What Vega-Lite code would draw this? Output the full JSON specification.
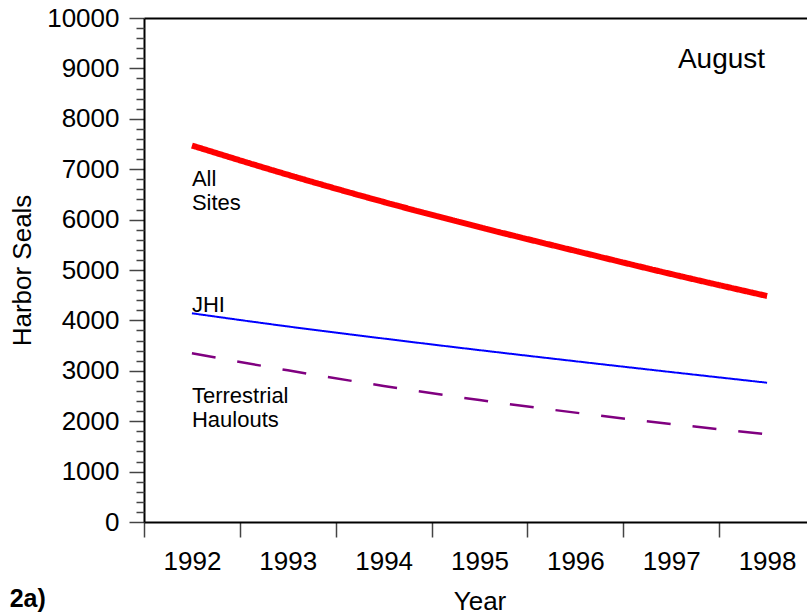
{
  "$schema": "https://vega.github.io/schema/vega-lite/v6.json",
  "autosize": "none",
  "width": 663,
  "height": 504,
  "padding": {"left": 144, "top": 18, "right": 0, "bottom": 93},
  "config": {
    "font": "Liberation Sans",
    "view": {"stroke": null},
    "axis": {"labelFont": "Liberation Sans", "titleFont": "Liberation Sans", "labelColor": "black", "titleColor": "black", "titleFontWeight": "normal"}
  },
  "title": {"text": "2a)", "orient": "bottom", "anchor": "start", "frame": "bounds", "fontSize": 25, "fontWeight": "bold", "font": "Liberation Sans", "offset": -27, "dx": 0, "color": "black"},
  "resolve": {"axis": {"x": "independent", "y": "independent"}},
  "layer": [
    {
      "data": {"values": [
        {"year": 1992, "series": "All Sites", "seals": 7470},
        {"year": 1993, "series": "All Sites", "seals": 6890},
        {"year": 1994, "series": "All Sites", "seals": 6350},
        {"year": 1995, "series": "All Sites", "seals": 5850},
        {"year": 1996, "series": "All Sites", "seals": 5380},
        {"year": 1997, "series": "All Sites", "seals": 4920},
        {"year": 1998, "series": "All Sites", "seals": 4484},
        {"year": 1992, "series": "JHI", "seals": 4141},
        {"year": 1993, "series": "JHI", "seals": 3880},
        {"year": 1994, "series": "JHI", "seals": 3640},
        {"year": 1995, "series": "JHI", "seals": 3410},
        {"year": 1996, "series": "JHI", "seals": 3190},
        {"year": 1997, "series": "JHI", "seals": 2975},
        {"year": 1998, "series": "JHI", "seals": 2764},
        {"year": 1992, "series": "Terrestrial Haulouts", "seals": 3347},
        {"year": 1993, "series": "Terrestrial Haulouts", "seals": 3010},
        {"year": 1994, "series": "Terrestrial Haulouts", "seals": 2700},
        {"year": 1995, "series": "Terrestrial Haulouts", "seals": 2420},
        {"year": 1996, "series": "Terrestrial Haulouts", "seals": 2170},
        {"year": 1997, "series": "Terrestrial Haulouts", "seals": 1945},
        {"year": 1998, "series": "Terrestrial Haulouts", "seals": 1740}
      ]},
      "mark": {"type": "line", "interpolate": "monotone", "clip": false},
      "encoding": {
        "x": {
          "field": "year", "type": "ordinal",
          "scale": {"domain": [1992, 1993, 1994, 1995, 1996, 1997, 1998], "range": [0, 671], "paddingInner": 0, "paddingOuter": 0},
          "axis": {
            "orient": "bottom", "title": "Year", "titleFontSize": 26, "titlePadding": 14,
            "labelFontSize": 26, "labelAngle": 0, "labelPadding": 11, "labelBaseline": "top",
            "tickBand": "extent", "tickSize": 15, "tickWidth": 1.5, "tickColor": "#444",
            "domainColor": "black", "domainWidth": 2, "grid": false
          }
        },
        "y": {
          "field": "seals", "type": "quantitative",
          "scale": {"domain": [0, 10000], "nice": false, "zero": true},
          "axis": {
            "orient": "left",
            "title": "Harbor Seals", "titleFontSize": 26, "titlePadding": 11,
            "values": [0, 1000, 2000, 3000, 4000, 5000, 6000, 7000, 8000, 9000, 10000],
            "format": "d",
            "labelFontSize": 26, "labelPadding": 10, "labelOverlap": false, "labelFlush": false,
            "tickSize": 15, "tickWidth": 1.5, "tickColor": "#444",
            "domainColor": "black", "domainWidth": 2, "grid": false
          }
        },
        "color": {"field": "series", "type": "nominal", "legend": null,
          "scale": {"type": "ordinal", "domain": ["All Sites", "JHI", "Terrestrial Haulouts"], "range": ["#ff0000", "#0000ff", "#800080"]}},
        "strokeWidth": {"field": "series", "type": "nominal", "legend": null,
          "scale": {"type": "ordinal", "domain": ["All Sites", "JHI", "Terrestrial Haulouts"], "range": [6, 2, 2.5]}},
        "strokeDash": {"field": "series", "type": "nominal", "legend": null,
          "scale": {"domain": ["All Sites", "JHI", "Terrestrial Haulouts"], "range": [[1, 0], [1, 0], [24, 22]]}}
      }
    },
    {
      "data": {"values": [
        {"year": 1992, "seals": 6660, "label": "All\nSites"},
        {"year": 1992, "seals": 4161, "label": "JHI"},
        {"year": 1992, "seals": 2360, "label": "Terrestrial\nHaulouts"}
      ]},
      "mark": {"type": "text", "align": "left", "baseline": "alphabetic", "fontSize": 22, "lineHeight": 24, "lineBreak": "\n", "color": "black", "font": "Liberation Sans"},
      "encoding": {
        "x": {"field": "year", "type": "ordinal",
          "scale": {"domain": [1992, 1993, 1994, 1995, 1996, 1997, 1998], "range": [0, 671], "paddingInner": 0, "paddingOuter": 0},
          "axis": {"orient": "top", "labels": false, "ticks": false, "title": null, "domainColor": "black", "domainWidth": 2, "grid": false}},
        "y": {"field": "seals", "type": "quantitative",
          "scale": {"domain": [0, 10000], "nice": false, "zero": true},
          "axis": {
            "orient": "left", "title": null, "labels": false, "domain": false, "grid": false,
            "values": [200,400,600,800,1200,1400,1600,1800,2200,2400,2600,2800,3200,3400,3600,3800,4200,4400,4600,4800,5200,5400,5600,5800,6200,6400,6600,6800,7200,7400,7600,7800,8200,8400,8600,8800,9200,9400,9600,9800],
            "tickSize": 8, "tickWidth": 1.5, "tickColor": "#444"
          }},
        "text": {"field": "label", "type": "nominal"}
      }
    },
    {
      "data": {"values": [{"year": 1998, "seals": 9000, "label": "August"}]},
      "mark": {"type": "text", "align": "right", "baseline": "alphabetic", "fontSize": 28, "dx": -2, "color": "black", "font": "Liberation Sans"},
      "encoding": {
        "x": {"field": "year", "type": "ordinal",
          "scale": {"domain": [1992, 1993, 1994, 1995, 1996, 1997, 1998], "range": [0, 671], "paddingInner": 0, "paddingOuter": 0},
          "axis": null},
        "y": {"field": "seals", "type": "quantitative", "axis": null},
        "text": {"field": "label", "type": "nominal"}
      }
    }
  ]
}
